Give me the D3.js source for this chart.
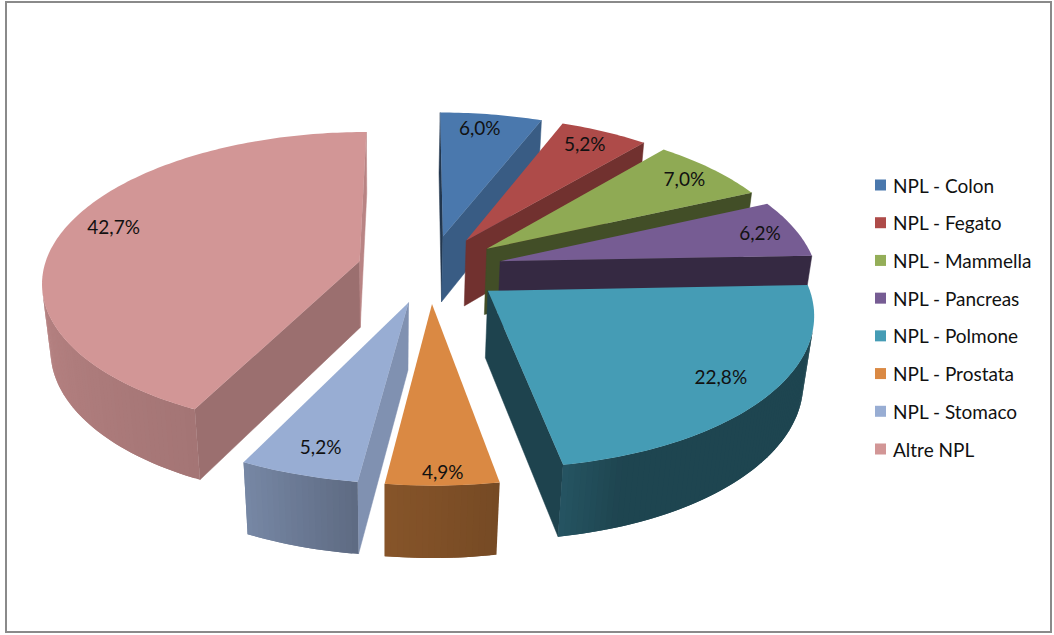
<!DOCTYPE html>
<html><head><meta charset="utf-8">
<script src="https://cdn.jsdelivr.net/npm/d3@7"></script>
<style>html,body{margin:0;padding:0;background:#fff}svg{display:block}text{font-family:Lato,"Open Sans",sans-serif;fill:#111}</style>
</head><body><svg id="c" width="1054" height="635"></svg>
<script>
const categories = ["NPL - Colon","NPL - Fegato","NPL - Mammella","NPL - Pancreas","NPL - Polmone","NPL - Prostata","NPL - Stomaco","Altre NPL"];
const values = [6.0,5.2,7.0,6.2,22.8,4.9,5.2,42.7];
const valueLabels = ["6,0%","5,2%","7,0%","6,2%","22,8%","4,9%","5,2%","42,7%"];
const topColors = ["#4A78AD","#AE4B49","#8FAA54","#765C93","#459CB5","#DA8943","#98ADD3","#D29696"];
const legendColors = ["#4A78AD","#AE4B49","#94AE58","#765C93","#459CB5","#DA8943","#98ADD3","#D29696"];

// label placement in pie space (fraction of radius, degrees of shift)
const labelRadius = [0.88,0.875,0.87,0.88,0.84,0.93,0.85,0.85];
const labelShift  = [-1.5,-1,0,0,-0.5,-0.2,-0.7,3.5];

// projection of the tilted pie
const cfg = {x0:430,y0:269,A:316,B:148,p:0.13,q:0.025,s:1.5,t:-1.1,D:68,explode:0.23};
function project(u,v,z){
  const w = 1 - cfg.p*v + cfg.q*z;
  return [cfg.x0 + (cfg.A*u + cfg.s*v + cfg.t*z)/w, cfg.y0 + (cfg.B*v + cfg.D*z)/w];
}
const outerShade = d3.scaleLinear().domain([0,80,160,170,188,206,280,360]).range([.85,.44,.44,.54,.62,.78,.90,.85]);
const cutShade = d3.scaleLinear().domain([0,90,116,130,155,178,260,360]).range([.85,.88,.74,.65,.46,.45,.43,.7]);
const shade = (c,f)=>{const r=d3.rgb(c);return d3.rgb(r.r*f,r.g*f,r.b*f).formatHex();};
const deg = a=>a*180/Math.PI;
const norm = a=>((a%360)+360)%360;

const svg = d3.select("#c");
svg.append("rect").attr("x",6).attr("y",2).attr("width",1045).attr("height",630)
  .attr("fill","#fff").attr("stroke","#8a8a8a").attr("stroke-width",2);

const arcs = d3.pie().sort(null).value(d=>d)(values).map((d,i)=>{
  const mid=(d.startAngle+d.endAngle)/2;
  return {...d,i,mid,ox:cfg.explode*Math.sin(mid),oy:-cfg.explode*Math.cos(mid)};
});
const line = d3.line();
function pt(d,a,r,z){return project(d.ox+r*Math.sin(a),d.oy-r*Math.cos(a),z);}
const order = arcs.slice().sort((a,b)=>a.oy-b.oy);
const g = svg.append("g");
order.forEach(d=>{
  const col=topColors[d.i], s=g.append("g");
  const apex0=project(d.ox,d.oy,0), apex1=project(d.ox,d.oy,1);
  // cut faces
  [[d.startAngle,1,-90],[d.endAngle,-1,90]].forEach(([a,sign,off])=>{
    const poly=[apex0,pt(d,a,1,0),pt(d,a,1,1),apex1];
    if(d3.polygonArea(poly)*sign>0){
      const f=shade(col,cutShade(norm(deg(a)+off)));
      s.append("path").attr("d",line(poly)+"Z").attr("fill",f).attr("stroke",f).attr("stroke-width",.5);
    }
  });
  // outer wall facets: each one runs under its neighbour so no seams show
  const n=Math.ceil(deg(d.endAngle-d.startAngle));
  const step=(d.endAngle-d.startAngle)/n;
  d3.range(n).forEach(k=>{
    const a=d.startAngle+step*k, b=a+step, e=Math.min(d.endAngle,b+step);
    const test=[pt(d,a,1,0),pt(d,b,1,0),pt(d,b,1,1),pt(d,a,1,1)];
    if(d3.polygonArea(test)>0){
      const f=shade(col,outerShade(norm(deg((a+b)/2))));
      const poly=[pt(d,a,1,0),pt(d,e,1,0),pt(d,e,1,1),pt(d,a,1,1)];
      s.append("path").attr("d",line(poly)+"Z").attr("fill",f);
    }
  });
  // top face
  const rim=d3.range(n+1).map(k=>pt(d,d.startAngle+step*k,1,0));
  s.append("path").attr("d",line([apex0,...rim])+"Z").attr("fill",col);
});
// data labels
svg.append("g").selectAll("text").data(arcs).join("text")
  .attr("text-anchor","middle").attr("dominant-baseline","central").attr("font-size",19)
  .attr("x",d=>pt(d,d.mid+labelShift[d.i]*Math.PI/180,labelRadius[d.i],0)[0])
  .attr("y",d=>pt(d,d.mid+labelShift[d.i]*Math.PI/180,labelRadius[d.i],0)[1])
  .text(d=>valueLabels[d.i]);
// legend
const ly=d3.scalePoint().domain(categories).range([185,449]);
const leg=svg.append("g").selectAll("g").data(categories).join("g").attr("transform",d=>`translate(875,${ly(d)})`);
leg.append("rect").attr("y",-5.5).attr("width",11).attr("height",11).attr("fill",(d,i)=>legendColors[i]);
leg.append("text").attr("x",18).attr("dominant-baseline","central").attr("font-size",19).text(d=>d);
</script></body></html>
